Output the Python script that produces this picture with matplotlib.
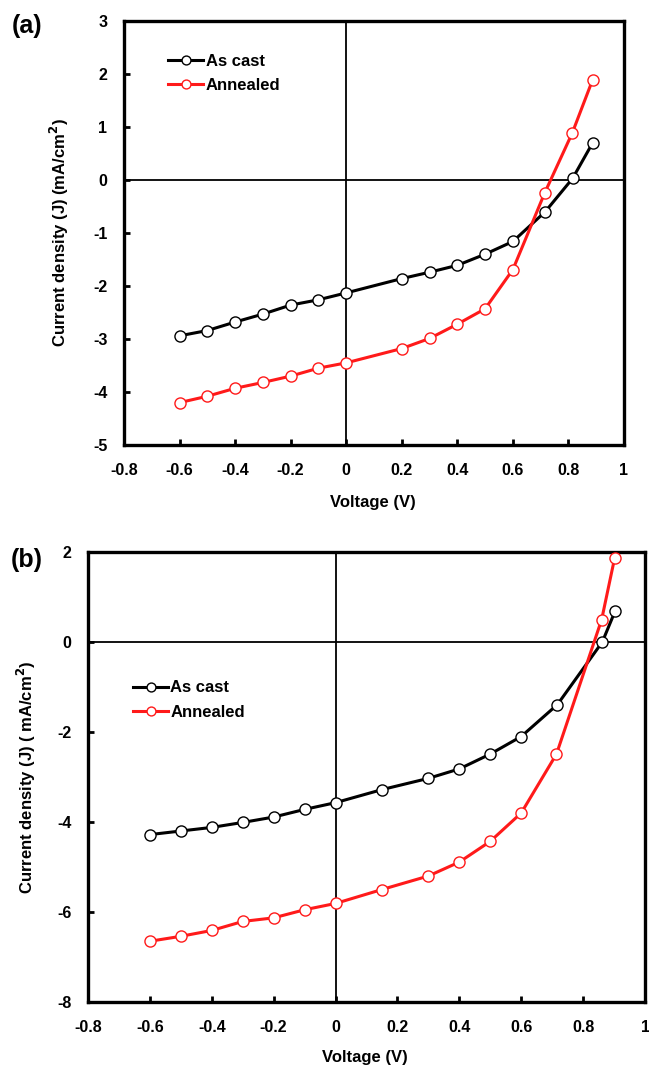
import matplotlib
matplotlib.use("Agg")
import matplotlib.pyplot as plt

plt.rcParams['font.family'] = ['Liberation Sans', 'DejaVu Sans']
plt.rcParams['font.weight'] = 'bold'

# Panel (a) data
va_cast = [-0.6, -0.5, -0.4, -0.3, -0.2, -0.1, 0.0, 0.2, 0.3, 0.4, 0.5, 0.6, 0.716, 0.815, 0.887]
ja_cast = [-2.94, -2.84, -2.68, -2.53, -2.36, -2.26, -2.13, -1.86, -1.74, -1.61, -1.40, -1.16, -0.60, 0.03, 0.70]
va_ann = [-0.6, -0.5, -0.4, -0.3, -0.2, -0.1, 0.0, 0.2, 0.3, 0.4, 0.5, 0.6, 0.714, 0.814, 0.887]
ja_ann = [-4.20, -4.08, -3.93, -3.82, -3.70, -3.55, -3.45, -3.18, -2.99, -2.72, -2.43, -1.69, -0.25, 0.89, 1.89]

# Panel (b) data
vb_cast = [-0.6, -0.5, -0.4, -0.3, -0.2, -0.1, 0.0, 0.15, 0.3, 0.4, 0.5, 0.6, 0.717, 0.862, 0.903]
jb_cast = [-4.28, -4.20, -4.12, -4.01, -3.89, -3.72, -3.57, -3.28, -3.03, -2.82, -2.49, -2.10, -1.39, 0.0, 0.68]
vb_ann = [-0.6, -0.5, -0.4, -0.3, -0.2, -0.1, 0.0, 0.15, 0.3, 0.4, 0.5, 0.6, 0.714, 0.86, 0.902]
jb_ann = [-6.65, -6.54, -6.41, -6.21, -6.13, -5.95, -5.81, -5.50, -5.20, -4.89, -4.43, -3.80, -2.49, 0.50, 1.87]

xticks = [-0.8, -0.6, -0.4, -0.2, 0, 0.2, 0.4, 0.6, 0.8, 1]
xticklabels = ['-0.8', '-0.6', '-0.4', '-0.2', '0', '0.2', '0.4', '0.6', '0.8', '1']
yticks_a = [-5, -4, -3, -2, -1, 0, 1, 2, 3]
yticks_b = [-8, -6, -4, -2, 0, 2]
labels = ['As cast', 'Annealed']
colors = ['black', '#ff1a1a']

W, H = 649, 1070
fig = plt.figure(figsize=(W / 100, H / 100), dpi=100)


def make_ax(l, t, r, b):
    return fig.add_axes([l / W, 1 - b / H, (r - l) / W, (b - t) / H])


def style(ax, yticks, ylim, ylabel):
    ax.set_xlim(-0.8, 1)
    ax.set_ylim(*ylim)
    ax.set_xticks(xticks)
    ax.set_xticklabels(xticklabels)
    ax.set_yticks(yticks)
    ax.set_yticklabels([str(v) for v in yticks])
    for s in ax.spines.values():
        s.set_linewidth(2.4)
    ax.tick_params(direction='in', length=4, width=2, labelsize=11.5)
    ax.tick_params(axis='x', pad=13)
    ax.tick_params(axis='y', pad=12)
    ax.axhline(0, color='black', lw=1.3, zorder=1)
    ax.axvline(0, color='black', lw=1.3, zorder=1)
    ax.set_xlabel('Voltage (V)', fontsize=12, fontweight='bold')
    ax.set_ylabel(ylabel, fontsize=12, fontweight='bold')


def draw(ax, vs, js):
    for v, j, c, lab in zip(vs, js, colors, labels):
        ax.plot(v, j, '-', color=c, lw=2.2, marker='o', ms=8, mfc='white',
                mec=c, mew=1.0, label=lab, zorder=3)


def legend(ax, x, y):
    ax.legend(loc='center left', bbox_to_anchor=(x, y), frameon=False,
              fontsize=12, handlelength=2.1, handletextpad=0.15,
              labelspacing=0.55, borderaxespad=0, borderpad=0, markerscale=0.8)


ax1 = make_ax(124, 21, 624, 445)
draw(ax1, [va_cast, va_ann], [ja_cast, ja_ann])
style(ax1, yticks_a, (-5, 3), 'Current density (J) (mA/cm$^\\mathbf{2}$)')
ax1.yaxis.set_label_coords((71 - 124) / 500, 0.5)
ax1.xaxis.set_label_coords((373 - 124) / 500, (445 - 495) / 424)
legend(ax1, (168 - 124) / 500, (445 - 73.5) / 424)

ax2 = make_ax(88, 552, 645, 1002)
draw(ax2, [vb_cast, vb_ann], [jb_cast, jb_ann])
style(ax2, yticks_b, (-8, 2), 'Current density (J) ( mA/cm$^\\mathbf{2}$)')
ax2.yaxis.set_label_coords((38 - 88) / 557, 0.5)
ax2.xaxis.set_label_coords((365 - 88) / 557, (1002 - 1050) / 450)
legend(ax2, (133 - 88) / 557, (1002 - 700) / 450)

fig.text(27 / W, 1 - 26 / H, '(a)', fontsize=18, fontweight='bold', ha='center', va='center')
fig.text(27 / W, 1 - 560 / H, '(b)', fontsize=18, fontweight='bold', ha='center', va='center')

fig.savefig('out.png', dpi=100)
